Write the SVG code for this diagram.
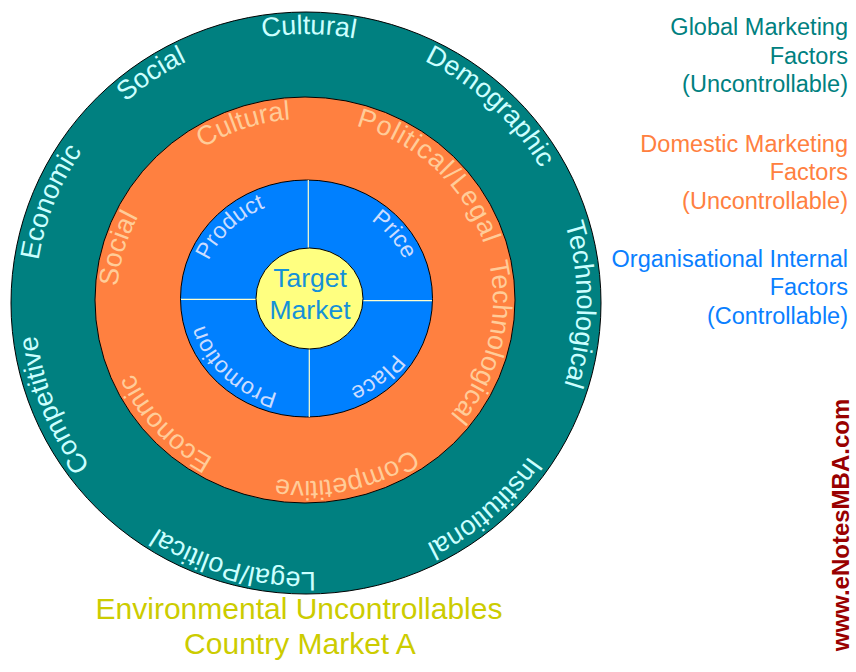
<svg xmlns="http://www.w3.org/2000/svg" xmlns:xlink="http://www.w3.org/1999/xlink" width="856" height="672" viewBox="0 0 856 672">
  <defs>
    <path id="pOuter" d="M577,303 A271,269 0 0 1 35,303 A271,269 0 0 1 577,303 A271,269 0 0 1 35,303 A271,269 0 0 1 577,303"/>
    <path id="pMid" d="M493,300 A188,181 0 0 1 117,300 A188,181 0 0 1 493,300 A188,181 0 0 1 117,300 A188,181 0 0 1 493,300"/>
    <path id="pInner" d="M412.5,298.5 A106,98.5 0 0 1 200.5,298.5 A106,98.5 0 0 1 412.5,298.5 A106,98.5 0 0 1 200.5,298.5 A106,98.5 0 0 1 412.5,298.5"/>
  </defs>
  <style>
    text { font-family: "Liberation Sans", Arial, sans-serif; }
    .ring { stroke: #000000; stroke-width: 1; }
    .outerT { font-size: 27px; fill: #CCFFFF; }
    .midT { font-size: 27px; fill: #FFCC99; }
    .innerT { font-size: 23px; fill: #CCDDFF; }
    .div { stroke: #FFFFCC; stroke-width: 1.2; }
    .leg { font-size: 23.5px; text-anchor: end; }
  </style>
  <rect width="856" height="672" fill="#FFFFFF"/>

  <g id="ring-global">
    <ellipse class="ring" cx="306" cy="303" rx="295" ry="291" fill="#008080"/>
    <text class="outerT"><textPath xlink:href="#pOuter" href="#pOuter" startOffset="87.58%" text-anchor="middle">Cultural</textPath></text>
    <text class="outerT"><textPath xlink:href="#pOuter" href="#pOuter" startOffset="93.47%" text-anchor="middle">Demographic</textPath></text>
    <text class="outerT"><textPath xlink:href="#pOuter" href="#pOuter" startOffset="50.04%" text-anchor="middle">Technological</textPath></text>
    <text class="outerT"><textPath xlink:href="#pOuter" href="#pOuter" startOffset="56.81%" text-anchor="middle">Institutional</textPath></text>
    <text class="outerT"><textPath xlink:href="#pOuter" href="#pOuter" startOffset="64.67%" text-anchor="middle">Legal/Political</textPath></text>
    <text class="outerT"><textPath xlink:href="#pOuter" href="#pOuter" startOffset="71.94%" text-anchor="middle">Competitive</textPath></text>
    <text class="outerT"><textPath xlink:href="#pOuter" href="#pOuter" startOffset="78.01%" text-anchor="middle">Economic</textPath></text>
    <text class="outerT"><textPath xlink:href="#pOuter" href="#pOuter" startOffset="82.78%" text-anchor="middle">Social</textPath></text>
  </g>

  <g id="ring-domestic">
    <ellipse class="ring" cx="305" cy="300" rx="210" ry="203" fill="#FF8040"/>
    <text class="midT"><textPath xlink:href="#pMid" href="#pMid" startOffset="84.86%" text-anchor="middle">Cultural</textPath></text>
    <text class="midT" letter-spacing="1"><textPath xlink:href="#pMid" href="#pMid" startOffset="93.65%" text-anchor="middle">Political/Legal</textPath></text>
    <text class="midT"><textPath xlink:href="#pMid" href="#pMid" startOffset="51.88%" text-anchor="middle">Technological</textPath></text>
    <text class="midT"><textPath xlink:href="#pMid" href="#pMid" startOffset="60.69%" text-anchor="middle">Competitive</textPath></text>
    <text class="midT"><textPath xlink:href="#pMid" href="#pMid" startOffset="69.17%" text-anchor="middle">Economic</textPath></text>
    <text class="midT"><textPath xlink:href="#pMid" href="#pMid" startOffset="77.17%" text-anchor="middle">Social</textPath></text>
  </g>

  <g id="ring-internal">
    <ellipse class="ring" cx="306.5" cy="298.5" rx="126" ry="118.5" fill="#0080FF"/>
    <g id="dividers">
      <line class="div" x1="308.3" y1="180" x2="308.3" y2="250"/>
      <line class="div" x1="309.3" y1="347" x2="309.3" y2="417"/>
      <line class="div" x1="181" y1="299.3" x2="258" y2="299.3"/>
      <line class="div" x1="361" y1="300.7" x2="432" y2="300.7"/>
    </g>
    <text class="innerT"><textPath xlink:href="#pInner" href="#pInner" startOffset="81.11%" text-anchor="middle">Product</textPath></text>
    <text class="innerT"><textPath xlink:href="#pInner" href="#pInner" startOffset="94.86%" text-anchor="middle">Price</textPath></text>
    <text class="innerT"><textPath xlink:href="#pInner" href="#pInner" startOffset="56.81%" text-anchor="middle">Place</textPath></text>
    <text class="innerT"><textPath xlink:href="#pInner" href="#pInner" startOffset="68.85%" text-anchor="middle">Promotion</textPath></text>
  </g>

  <g id="target-market">
    <ellipse class="ring" cx="309.5" cy="298.5" rx="53.5" ry="50.5" fill="#FFFF80"/>
    <text x="310" y="287" font-size="26.5" fill="#1591D8" text-anchor="middle">Target</text>
    <text x="310" y="319" font-size="26.5" fill="#1591D8" text-anchor="middle">Market</text>
  </g>

  <g id="legend-global">
    <text class="leg" x="848" y="35" fill="#008080">Global Marketing</text>
    <text class="leg" x="848" y="63.5" fill="#008080">Factors</text>
    <text class="leg" x="848" y="92" fill="#008080">(Uncontrollable)</text>
  </g>
  <g id="legend-domestic">
    <text class="leg" x="848" y="151.5" fill="#FF8040">Domestic Marketing</text>
    <text class="leg" x="848" y="180" fill="#FF8040">Factors</text>
    <text class="leg" x="848" y="208.5" fill="#FF8040">(Uncontrollable)</text>
  </g>
  <g id="legend-internal">
    <text class="leg" x="848" y="266.5" fill="#0A7FFF">Organisational Internal</text>
    <text class="leg" x="848" y="295" fill="#0A7FFF">Factors</text>
    <text class="leg" x="848" y="323.5" fill="#0A7FFF">(Controllable)</text>
  </g>

  <g id="caption">
    <text x="299" y="619" font-size="30" fill="#CCCC00" text-anchor="middle">Environmental Uncontrollables</text>
    <text x="300" y="654" font-size="30" fill="#CCCC00" text-anchor="middle">Country Market A</text>
  </g>

  <g id="watermark">
    <text transform="translate(849,525) rotate(-90)" font-size="24" font-weight="bold" fill="#990000" text-anchor="middle">www.eNotesMBA.com</text>
  </g>
</svg>
